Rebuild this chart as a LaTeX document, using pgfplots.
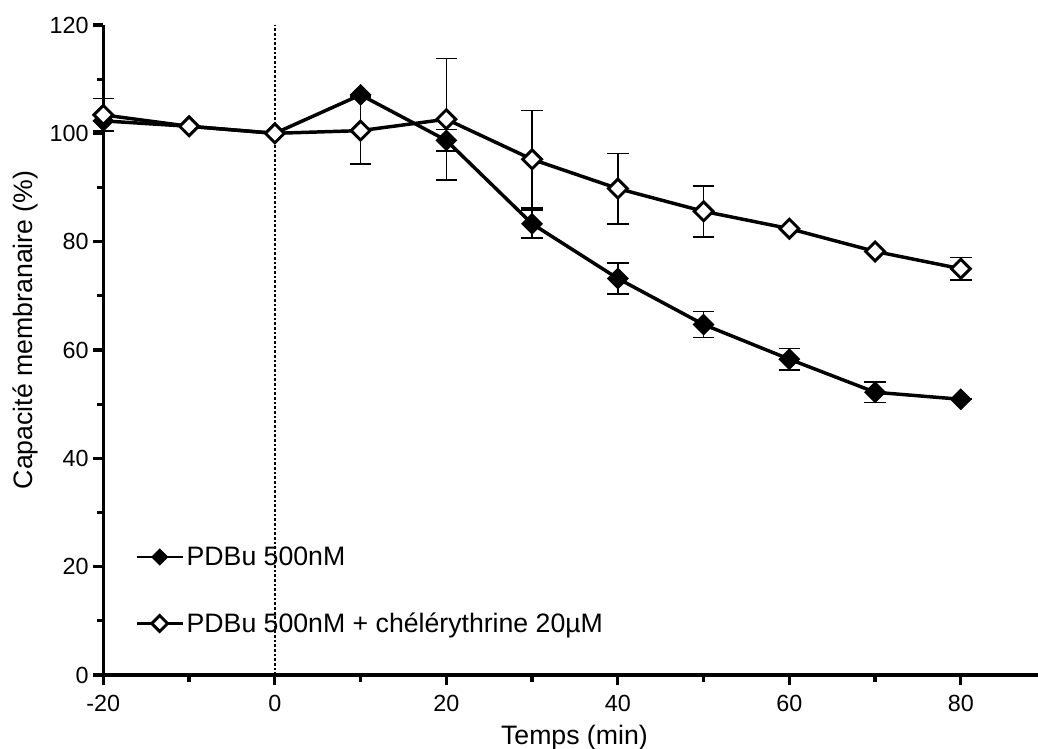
\documentclass[border=0pt]{standalone}
\usepackage{fontspec}
\setmainfont{Liberation Sans}
\usepackage{pgfplots}
\usepackage{pgfplotstable}
\pgfplotsset{compat=1.18}
\pgfplotstableread{
t y e
-20 102.3 0
-10 101.3 0
0 100.0 0
10 107.1 0
20 98.7 2.0
30 83.3 2.6
40 73.2 2.9
50 64.7 2.4
60 58.3 2.0
70 52.2 1.9
80 50.9 0
}\pdbu
\pgfplotstableread{
t y e
-20 103.4 3.0
-10 101.3 0
0 100.0 0
10 100.5 6.2
20 102.6 11.2
30 95.2 9.0
40 89.8 6.5
50 85.6 4.7
60 82.4 0
70 78.2 0
80 75.0 2.1
}\chel
\begin{document}
\begin{tikzpicture}
\useasboundingbox (-77.5pt,-55.5pt) rectangle (701pt,506.25pt);
\begin{axis}[
  at={(0pt,0pt)}, anchor=south west,
  scale only axis, width=701pt, height=487.5pt,
  xmin=-20, xmax=89, ymin=0, ymax=120,
  axis x line*=bottom, axis y line*=left,
  axis line style={-, line width=2.4pt, black},
  xtick={-20,0,...,80}, minor xtick={-10,10,...,70},
  ytick={0,20,...,120}, minor ytick={10,30,...,110},
  tick align=outside, major tick length=7.5pt, minor tick length=5pt,
  every tick/.style={line width=2.4pt, black},
  tick style={line width=2.4pt, black},
  xtick style={line width=2.4pt, black},
  ytick style={line width=2.4pt, black},
  /pgf/number format/assume math mode=true,
  tick label style={font=\fontsize{17.5}{21}\selectfont},
  xticklabel style={yshift=-4pt},
  label style={font=\fontsize{20}{24}\selectfont},
  xlabel={Temps (min)}, ylabel={Capacité membranaire (\%)},
  xlabel style={at={(axis description cs:0.504,-0.097)}, anchor=center},
  ylabel style={at={(axis description cs:-0.0835,0.531)}, anchor=center},
  clip=false,
  legend style={draw=none, fill=none, at={(axis description cs:0.034,0.130)}, anchor=west,
    font=\fontsize{20}{24}\selectfont, row sep=30pt, inner sep=0pt},
  legend cell align=left,
  legend image code/.code={\draw[mark repeat=2,mark phase=2,#1] plot coordinates {(0pt,0pt) (17.25pt,0pt) (34.5pt,0pt)};},
  legend image post style={mark size=4.2pt, line width=2pt},
]
\addplot[black, line width=1pt, dash pattern=on 2pt off 1.5pt, forget plot] coordinates {(0,0) (0,120)};
\addplot[black, line width=2.6pt, mark=square*, mark size=5.4pt,
  mark options={rotate=45, fill=black, line width=0.8pt},
  error bars/.cd, y dir=both, y explicit,
  error bar style={line width=1.2pt, black},
  error mark options={rotate=90, line width=1.2pt, mark size=8pt, black}]
  table[x=t, y=y, y error=e] {\pdbu};
\addlegendentry{PDBu 500nM}
\addplot[black, line width=2.6pt, mark=square*, mark size=5pt,
  mark options={rotate=45, fill=white, line width=2.2pt},
  error bars/.cd, y dir=both, y explicit,
  error bar style={line width=1.2pt, black},
  error mark options={rotate=90, line width=1.2pt, mark size=8pt, black}]
  table[x=t, y=y, y error=e] {\chel};
\addlegendentry{PDBu 500nM + chélérythrine 20µM}
\end{axis}
\end{tikzpicture}
\end{document}
